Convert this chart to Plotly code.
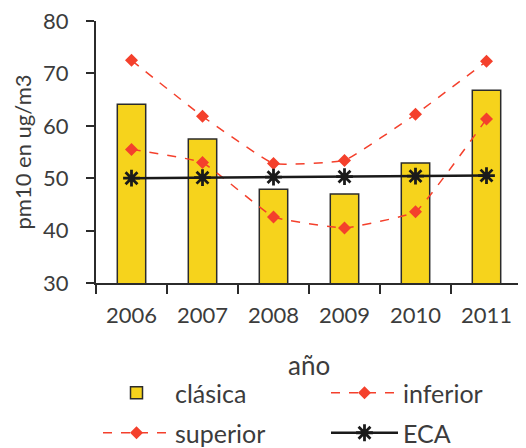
import plotly.graph_objects as go

years = ["2006", "2007", "2008", "2009", "2010", "2011"]
clasica = [64.1, 57.5, 47.9, 47.0, 52.9, 66.8]
inferior = [55.5, 53.0, 42.6, 40.5, 43.6, 61.3]
superior = [72.5, 61.8, 52.8, 53.4, 62.2, 72.3]
eca = [50.0, 50.1, 50.2, 50.3, 50.4, 50.5]
x_title = "año"
y_title = "pm10 en ug/m3"

FONT = "Lato"
TXT = "#3c3c3c"
RED = "#f4402c"

# page has an 8px body margin; size the figure so it fills the 526x448 window
W, H, OFF = 518, 440, 8
MT, MB = 13, 165
PLOT_H = H - MT - MB

fig = go.Figure()
fig.add_trace(go.Bar(
    x=years, y=clasica, name="clásica",
    marker=dict(color="#f6d31c", line=dict(color="#2b2b2b", width=1.5)),
    legend="legend",
))
fig.add_trace(go.Scatter(
    x=years, y=inferior, name="inferior", mode="lines+markers",
    line=dict(color=RED, width=1.5, dash="dash", shape="spline", smoothing=0.3),
    marker=dict(symbol="diamond", size=10, color=RED),
    legend="legend2",
))
fig.add_trace(go.Scatter(
    x=years, y=superior, name="superior", mode="lines+markers",
    line=dict(color=RED, width=1.5, dash="dash", shape="spline", smoothing=0.3),
    marker=dict(symbol="diamond", size=10, color=RED),
    legend="legend3",
))
fig.add_trace(go.Scatter(
    x=years, y=eca, name="ECA", mode="lines+markers",
    line=dict(color="#1a1a1a", width=2.5),
    marker=dict(symbol="asterisk-open", size=14, line=dict(color="#1a1a1a", width=2.8)),
    legend="legend4",
))

def leg(xpx, ypx):
    return dict(
        orientation="h", xref="container", yref="container",
        xanchor="left", yanchor="middle",
        x=(xpx - OFF) / W, y=1 - (ypx - OFF) / H,
        font=dict(family=FONT, size=25, color=TXT),
        itemwidth=67, bgcolor="rgba(0,0,0,0)", itemclick=False,
    )

fig.update_layout(
    width=W, height=H,
    margin=dict(l=88, r=4, t=MT, b=MB),
    paper_bgcolor="white", plot_bgcolor="white",
    font=dict(family=FONT, size=22, color=TXT),
    bargap=0.6,
    showlegend=True,
    legend=leg(98, 393),
    legend2=leg(326, 393),
    legend3=leg(98, 433),
    legend4=leg(326, 433),
    xaxis=dict(
        type="category", showline=True, linecolor="#2b2b2b", linewidth=2,
        ticks="outside", tickson="boundaries", ticklen=9, tickwidth=2, tickcolor="#2b2b2b",
        tickfont=dict(family=FONT, size=22, color=TXT), ticklabelstandoff=12,
        ticklabeloverflow="allow",
        showgrid=False, range=[-0.5, 5.5], automargin=False,
    ),
    yaxis=dict(
        range=[30, 80], dtick=10, showline=True, linecolor="#2b2b2b", linewidth=2,
        ticks="outside", ticklen=8, tickwidth=2, tickcolor="#2b2b2b",
        tickfont=dict(family=FONT, size=22, color=TXT), ticklabelstandoff=13,
        ticklabeloverflow="allow",
        title=dict(text=y_title, font=dict(family=FONT, size=22, color=TXT), standoff=5),
        showgrid=False, zeroline=False, automargin=False,
    ),
    annotations=[dict(
        text=x_title, xref="paper", yref="paper", x=0.5,
        y=((H - MB) - (365 - OFF)) / PLOT_H,
        xanchor="center", yanchor="middle", showarrow=False,
        font=dict(family=FONT, size=26, color=TXT),
    )],
)

fig.write_html("out.html")
